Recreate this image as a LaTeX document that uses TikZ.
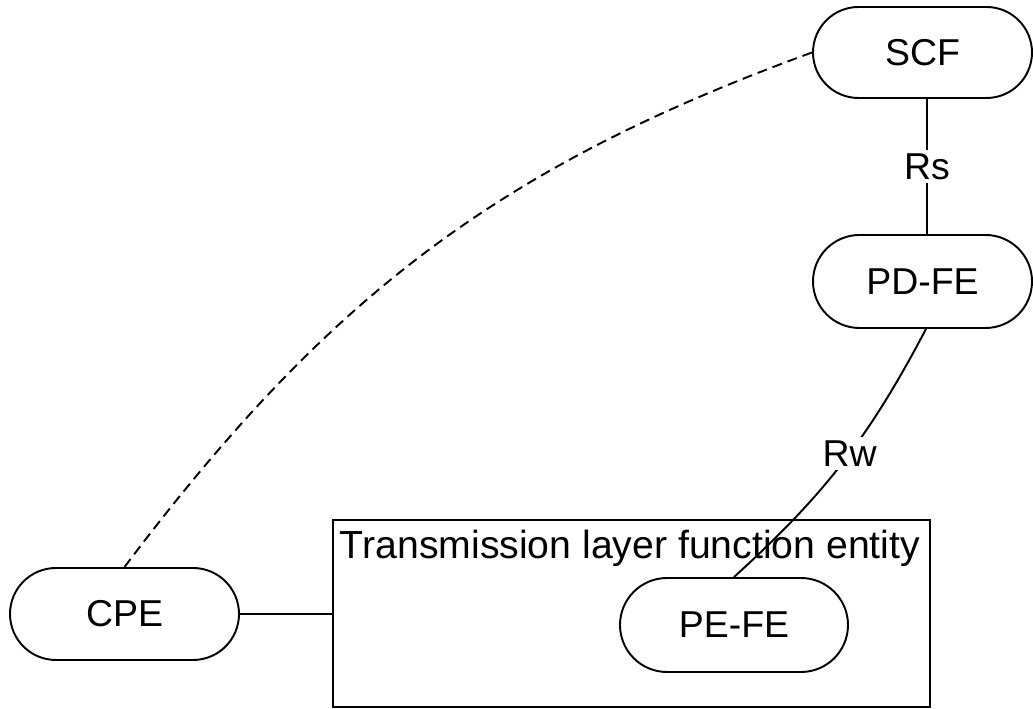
\documentclass[tikz,border=0pt]{standalone}
\usepackage{fontspec}
\setmainfont{Liberation Sans}
\usetikzlibrary{shapes.misc}

\begin{document}
\begin{tikzpicture}[line width=1.1pt, font=\fontsize{21.3pt}{25pt}\selectfont,
        fe/.style={draw, rounded rectangle, minimum width=4.56cm, minimum height=1.86cm, inner sep=0pt},
        lbl/.style={fill=white, inner sep=2pt}]
        \useasboundingbox (0,0) rectangle (20.66,14.18);

        \node[draw, minimum width=11.94cm, minimum height=3.74cm, inner sep=0pt](tlfe) at (12.63,1.91){};
        \node[anchor=base west, inner sep=0pt, font=\fontsize{22.3pt}{26pt}\selectfont](title) at (6.78,3.0){Transmission layer function entity};

        \node[fe, minimum width=4.38cm, minimum height=1.82cm](scf) at (18.45,13.13){SCF};
        \node[fe, minimum width=4.38cm](pdfe) at (18.45,8.55){PD-FE};
        \node[fe, minimum height=1.88cm](pefe) at (14.68,1.68){PE-FE};
        \node[fe, minimum width=4.58cm, minimum height=1.84cm](cpe) at (2.49,1.9){CPE};

        \draw ([xshift=0.09cm]scf.south) -- node[lbl]{Rs} ([xshift=0.09cm]pdfe.north);
        \draw ([xshift=0.07cm]pdfe.south) to[bend left=10] node[lbl, pos=0.46]{Rw} (pefe.north);
        \draw (cpe.east) -- (cpe.east -| tlfe.west);
        \draw[dash pattern=on 5.7pt off 3.4pt] (cpe.north) to[out=53, in=200] (scf.west);
    \end{tikzpicture}
\end{document}
